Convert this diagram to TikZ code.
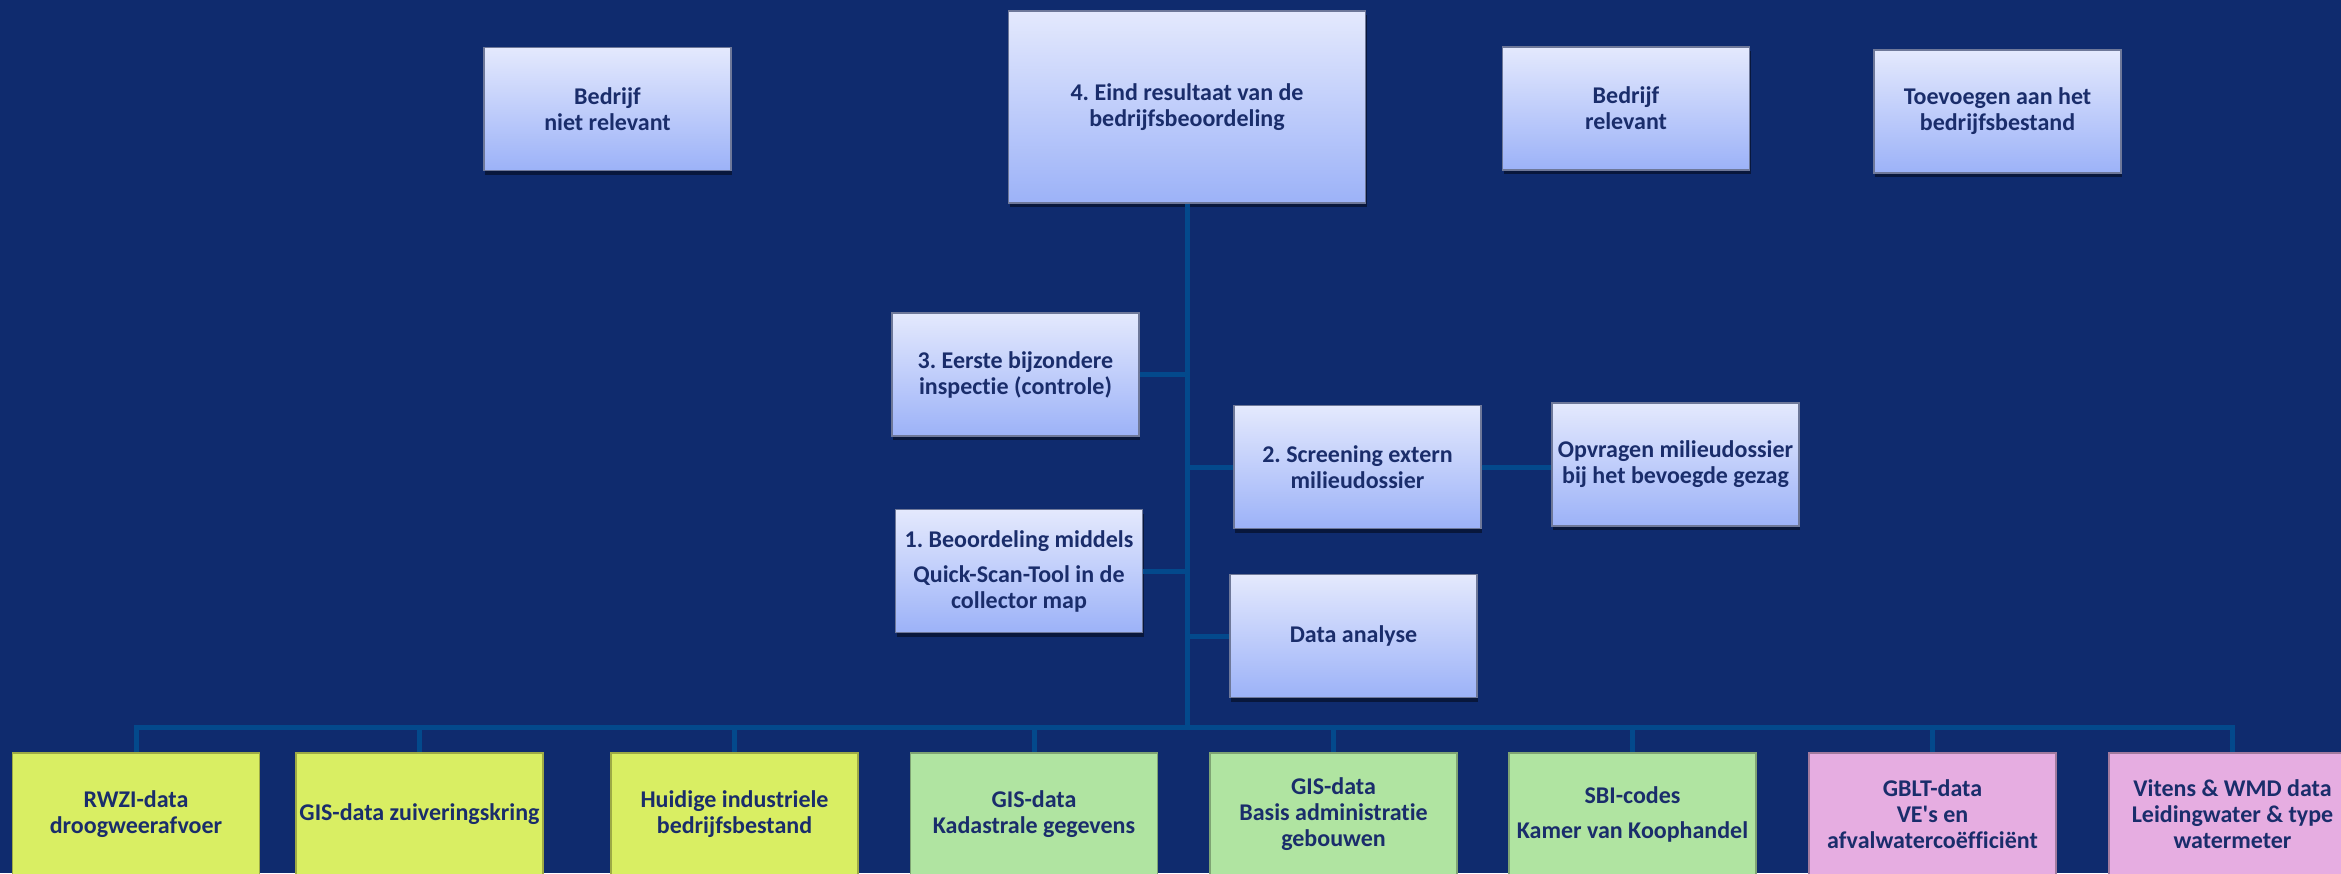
\documentclass[tikz,border=0pt]{standalone}
\usepackage{fontspec}
\setmainfont{Carlito}[Ligatures=NoCommon]
\frenchspacing
\usetikzlibrary{shadows}
\definecolor{bgc}{HTML}{0F2B6E}
\definecolor{connc}{HTML}{03498C}
\definecolor{txtc}{HTML}{1A2D6B}
\definecolor{uptop}{HTML}{E4E9FD}
\definecolor{upbot}{HTML}{9CB2F8}
\definecolor{upborder}{HTML}{6E7899}
\definecolor{yel}{HTML}{D9EE63}
\definecolor{yelb}{HTML}{9DAA45}
\definecolor{grn}{HTML}{B0E4A1}
\definecolor{grnb}{HTML}{7FA474}
\definecolor{pnk}{HTML}{E6ADE1}
\definecolor{pnkb}{HTML}{A27A9E}
\tikzset{
  boxbase/.style={rectangle, minimum width=247pt, minimum height=123pt, inner sep=0pt,
    align=center, text=txtc, font=\fontsize{24}{26}\selectfont\bfseries\frenchspacing,
    line width=1.2pt},
  upbox/.style={boxbase, draw=upborder, top color=uptop, bottom color=upbot,
    drop shadow={shadow xshift=1pt, shadow yshift=-4pt, opacity=0.45, fill=black}},
  ybox/.style={boxbase, draw=yelb, fill=yel},
  gbox/.style={boxbase, draw=grnb, fill=grn},
  pbox/.style={boxbase, draw=pnkb, fill=pnk},
  conn/.style={draw=connc, line width=5pt}
}
\begin{document}
\begin{tikzpicture}[x=1pt,y=-1pt]
\useasboundingbox (0,0) rectangle (2341,873);
\fill[bgc] (0,0) rectangle (2341,873);
\coordinate (j) at (1187,727);
% upper boxes
\node[upbox] (niet) at (607.5,109) {Bedrijf\\niet relevant};
\node[upbox, minimum width=357pt, minimum height=192pt] (b4) at (1187,107) {4. Eind resultaat van de\\bedrijfsbeoordeling};
\node[upbox] (rel) at (1626,108.5) {Bedrijf\\relevant};
\node[upbox] (toev) at (1997.5,111.5) {Toevoegen aan het\\bedrijfsbestand};
\node[upbox] (b3) at (1015.5,374.5) {3. Eerste bijzondere\\inspectie (controle)};
\node[upbox] (b2) at (1357.5,467) {2. Screening extern\\milieudossier};
\node[upbox] (opv) at (1675.5,464.5) {Opvragen milieudossier\\bij het bevoegde gezag};
\node[upbox] (b1) at (1019,571) {1. Beoordeling middels\\[9pt]Quick-Scan-Tool in de\\collector map};
\node[upbox] (da) at (1353.5,636) {Data analyse};
% bottom boxes
\node[ybox] (c1) at (136,814.5) {RWZI-data\\droogweerafvoer};
\node[ybox] (c2) at (419.5,814.5) {GIS-data zuiveringskring};
\node[ybox] (c3) at (734.5,814.5) {Huidige industriele\\bedrijfsbestand};
\node[gbox] (c4) at (1034,814.5) {GIS-data\\Kadastrale gegevens};
\node[gbox] (c5) at (1333.5,814.5) {GIS-data\\Basis administratie\\gebouwen};
\node[gbox] (c6) at (1632.5,814.5) {SBI-codes\\[9pt]Kamer van Koophandel};
\node[pbox] (c7) at (1932.5,814.5) {GBLT-data\\VE\textquotesingle s en\\afvalwaterco\"effici\"ent};
\node[pbox] (c8) at (2232.5,814.5) {Vitens \& WMD data\\Leidingwater \& type\\watermeter};
% connectors
\draw[conn] (b4.south) -- (j);
\draw[conn] (b3.east) -- (b3.east -| j);
\draw[conn] (b1.east) -- (b1.east -| j);
\draw[conn] (b2.west -| j) -- (b2.west);
\draw[conn] (da.west -| j) -- (da.west);
\draw[conn] (b2.east) -- (opv.west |- b2.east);
\foreach \c in {c1,c2,c3,c4,c5,c6,c7,c8} {\draw[conn] (j) -| (\c.north);}
\end{tikzpicture}
\end{document}
